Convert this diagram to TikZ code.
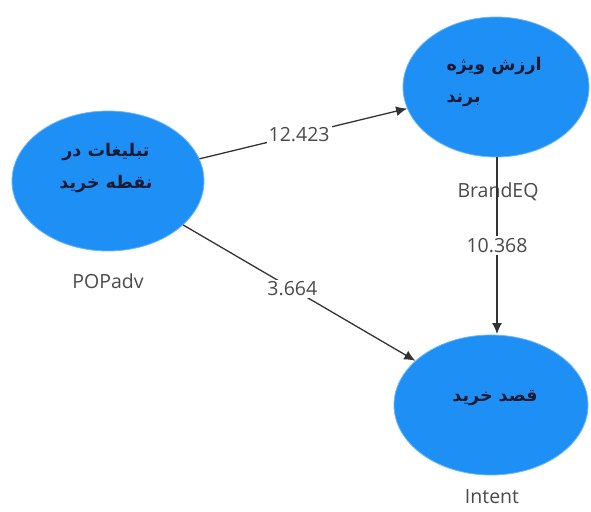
\documentclass[tikz,border=0pt]{standalone}
\usepackage{fontspec}
\setmainfont{Open Sans}
\newfontfamily\arabicfont[Script=Arabic]{DejaVu Sans}
\TeXXeTstate=1
\usetikzlibrary{shapes.geometric,arrows.meta}
\definecolor{lvblue}{HTML}{1E90F5}
\definecolor{lvedge}{HTML}{6DB6F7}
\definecolor{lvline}{HTML}{333333}
\definecolor{lvtext}{HTML}{4A4A4A}
\definecolor{fatext}{HTML}{1A1A33}
\tikzset{
  latent/.style={ellipse, fill=lvblue, draw=lvedge, line width=0.8pt, inner sep=0pt},
  fatxt/.style={font=\arabicfont\bfseries\fontsize{17.5}{32}\selectfont, text=fatext},
  nlabel/.style={font=\fontsize{19.5}{22}\selectfont, text=lvtext},
  path/.style={draw=lvline, line width=1.3pt, -{Latex[length=11pt,width=10pt]}},
  coef/.style={fill=white, inner sep=2pt, font=\fontsize{19.5}{22}\selectfont, text=lvtext}
}
\begin{document}
\begin{tikzpicture}[x=1pt,y=-1pt]
\useasboundingbox (0,0) rectangle (591,511);
\node[latent, minimum width=192pt, minimum height=140pt] (pop) at (108,181) {};
\node[latent, minimum width=186pt, minimum height=140pt] (brand) at (496,87) {};
\node[latent, minimum width=194pt, minimum height=140pt] (intent) at (491,405) {};
\node[fatxt, align=center] (poptxt) at (106,168) {\beginR تبلیغات در\endR\\ \beginR نقطه خرید\endR};
\node[fatxt, align=left, anchor=west] (brandtxt) at (443,82) {\beginR ارزش ویژه\endR\\ \beginR برند\endR};
\node[fatxt] (inttxt) at (495,398) {\beginR قصد خرید\endR};
\node[nlabel] (popl) at (108,281) {POPadv};
\node[nlabel] (brandl) at (498,192) {BrandEQ};
\node[nlabel] (intl) at (492,497) {Intent};
\coordinate (vtop) at (497,157);
\coordinate (vbot) at (497,334);
\draw[path] (pop) -- node[coef, pos=0.48] (c1) {12.423} (brand);
\draw[path] (pop) -- node[coef, pos=0.47] (c2) {3.664} (intent);
\draw[path] (vtop) -- node[coef, pos=0.5] (c3) {10.368} (vbot);
\end{tikzpicture}
\end{document}
